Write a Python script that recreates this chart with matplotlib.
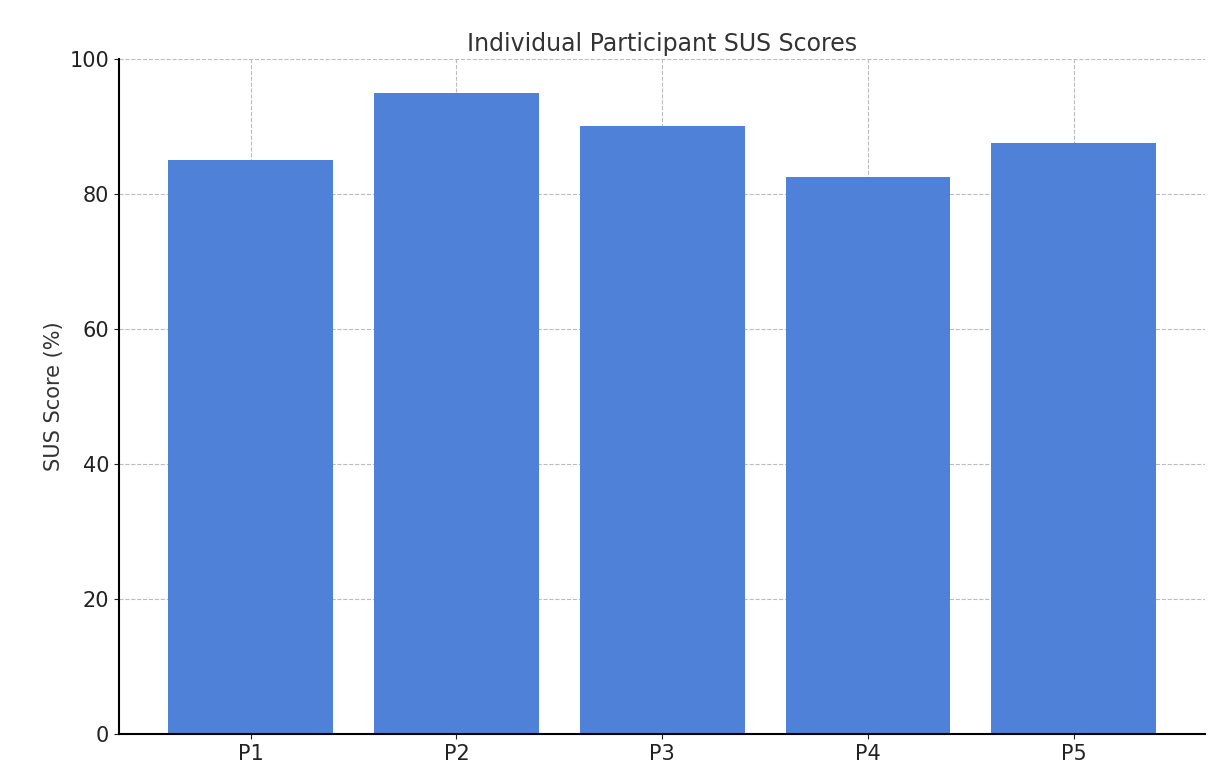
import matplotlib
matplotlib.use("Agg")
import matplotlib.pyplot as plt

participants = ["P1", "P2", "P3", "P4", "P5"]
scores = [85, 95, 90, 82.5, 87.5]

fig = plt.figure(figsize=(12.22, 7.74), dpi=100)
ax = fig.add_axes([0.0974, 0.0517, 0.889, 0.8721])
ax.bar(participants, scores, color="#4f81d9", width=0.8, zorder=2)
ax.set_ylim(0, 100)
ax.set_title("Individual Participant SUS Scores", fontsize=17, color="#333333")
ax.set_ylabel("SUS Score (%)", fontsize=15, color="#333333")
ax.tick_params(labelsize=15, colors="#222222")
ax.grid(True, linestyle="--", color="#bbbbbb", linewidth=0.8, zorder=0)
ax.set_axisbelow(True)
for s in ["top", "right"]:
    ax.spines[s].set_visible(False)
ax.spines["left"].set_linewidth(1.5)
ax.spines["bottom"].set_linewidth(1.5)
fig.savefig("out.png", dpi=100)
